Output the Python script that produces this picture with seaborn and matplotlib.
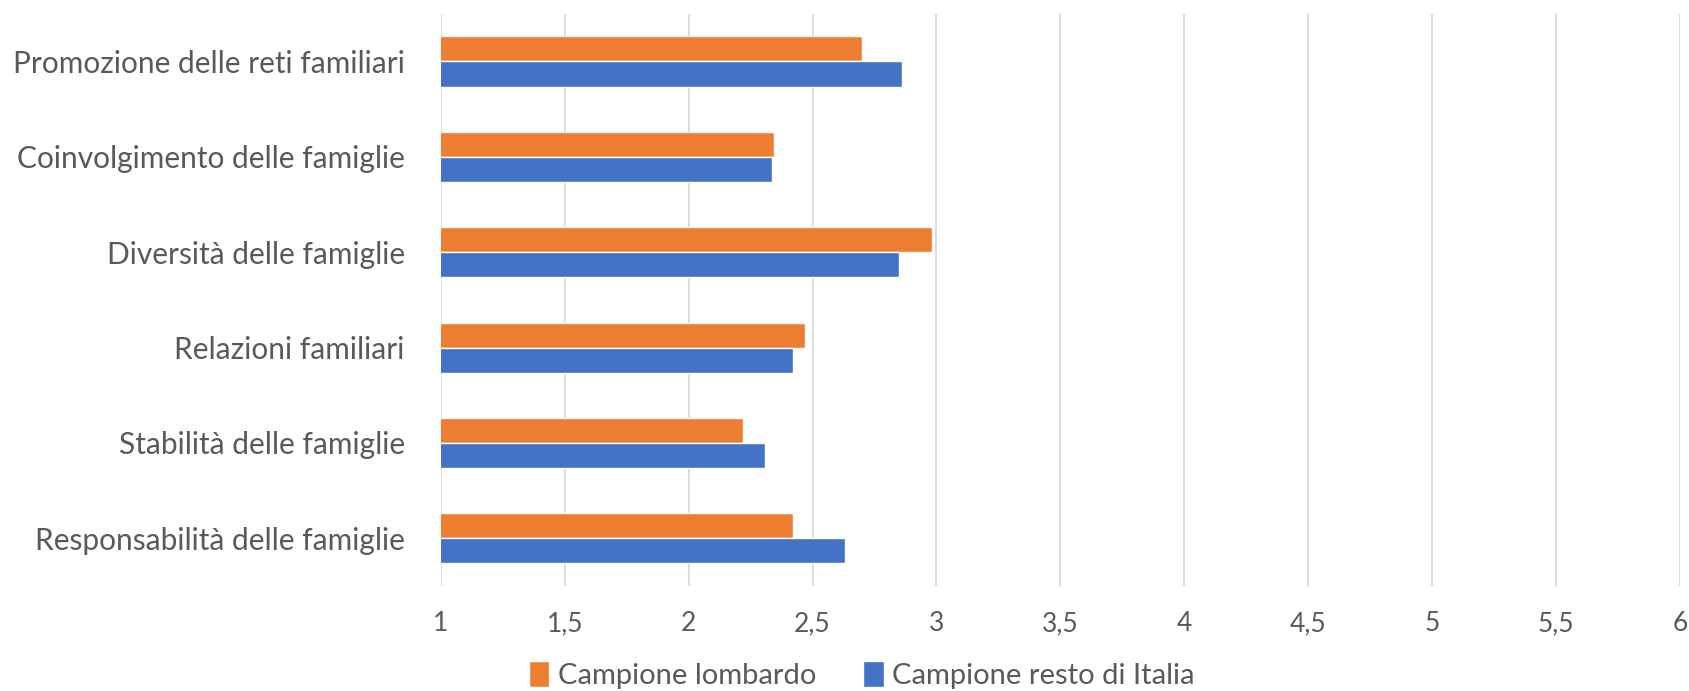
import pandas as pd
import numpy as np
import matplotlib
matplotlib.use("Agg")
import matplotlib.pyplot as plt
import seaborn as sns

# dati
categorie = [
    "Promozione delle reti familiari",
    "Coinvolgimento delle famiglie",
    "Diversità delle famiglie",
    "Relazioni familiari",
    "Stabilità delle famiglie",
    "Responsabilità delle famiglie",
]
lombardo = [2.70, 2.345, 2.98, 2.47, 2.22, 2.42]
resto_italia = [2.86, 2.337, 2.85, 2.42, 2.31, 2.63]
serie = ["Campione lombardo", "Campione resto di Italia"]
colori = ["#ED7D31", "#4472C4"]
x_ticks = [1, 1.5, 2, 2.5, 3, 3.5, 4, 4.5, 5, 5.5, 6]
x_labels = ["1", "1,5", "2", "2,5", "3", "3,5", "4", "4,5", "5", "5,5", "6"]

df = pd.DataFrame({
    "categoria": categorie * 2,
    "valore": lombardo + resto_italia,
    "serie": [serie[0]] * len(categorie) + [serie[1]] * len(categorie),
})

sns.set_style("white")
plt.rcParams["font.family"] = ["Lato", "DejaVu Sans"]
testo = "#595959"

fig = plt.figure(figsize=(16.9, 6.91), dpi=100)
ax = fig.add_axes([0.2608, 0.152, 0.7333, 0.828])

sns.barplot(data=df, y="categoria", x="valore", hue="serie", order=categorie,
            hue_order=serie, palette=colori, width=0.525, orient="h",
            saturation=1, ax=ax, legend=True)

ax.set_xlim(1, 6)
ax.set_xticks(x_ticks)
ax.set_xticklabels(x_labels)
ax.xaxis.grid(True, color="#D9D9D9", linewidth=1.3)
ax.set_axisbelow(True)
for s in ax.spines.values():
    s.set_visible(False)
ax.set_xlabel("")
ax.set_ylabel("")
ax.tick_params(axis="y", length=0, pad=26, labelsize=21.5, labelcolor=testo)
ax.tick_params(axis="x", length=0, pad=18, labelsize=19, labelcolor=testo)

h, l = ax.get_legend_handles_labels()
ax.get_legend().remove()
fig.legend(h, l, loc="lower center", bbox_to_anchor=(0.51, -0.035), ncol=2,
           frameon=False, fontsize=21, labelcolor=testo, handlelength=0.7,
           handleheight=1.0, handletextpad=0.3, columnspacing=1.6)

fig.savefig("out.png", dpi=100)
